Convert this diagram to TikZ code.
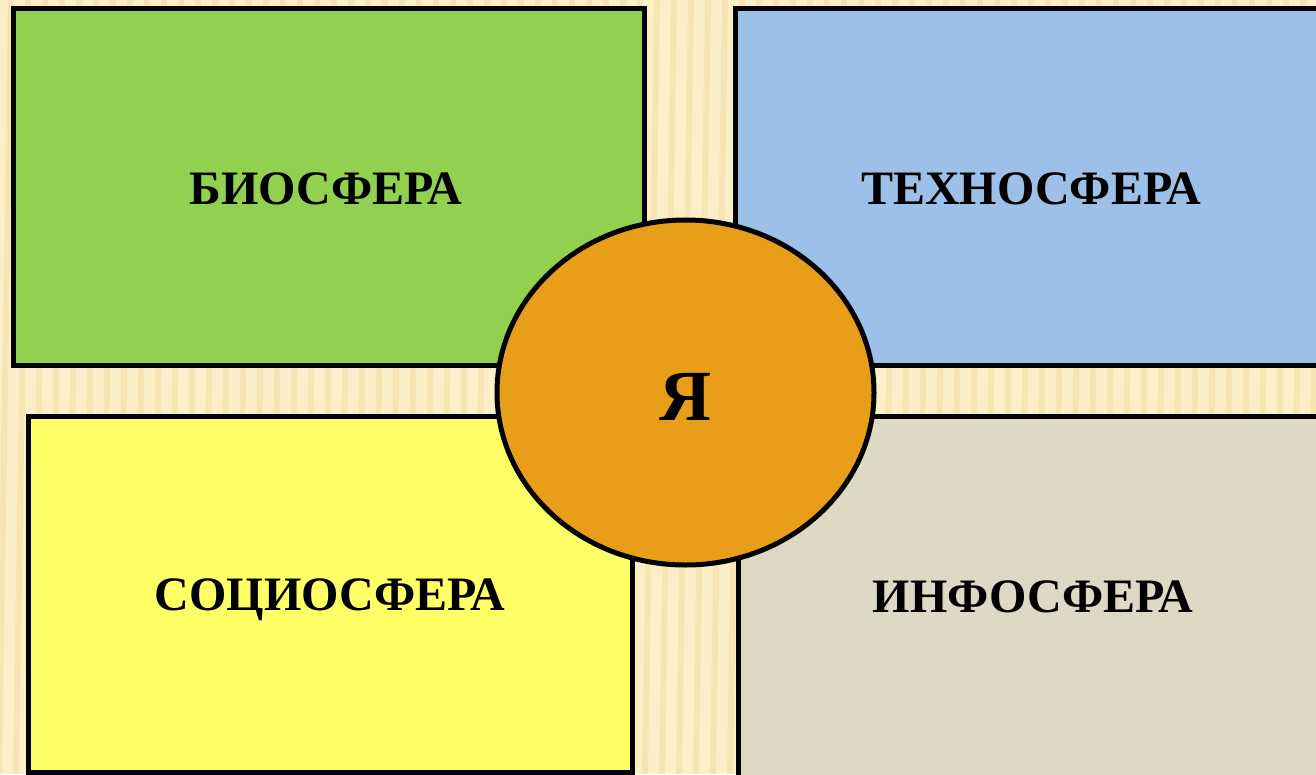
\documentclass[tikz,border=0pt]{standalone}
\usepackage{fontspec}
\setmainfont{Liberation Serif}
\definecolor{woodbg}{HTML}{FCEFC8}
\definecolor{woodline}{HTML}{EFD89A}
\definecolor{biogreen}{HTML}{92D050}
\definecolor{technoblue}{HTML}{9DC0E8}
\definecolor{sociyellow}{HTML}{FFFF66}
\definecolor{infogrey}{HTML}{DDD9C4}
\definecolor{selforange}{HTML}{E89E19}
\tikzset{
	sphere/.style={draw=black, line width=5pt},
	spherelabel/.style={anchor=base, font=\bfseries\fontsize{48}{52}\selectfont},
}

\begin{document}
\begin{tikzpicture}[x=1pt, y=-1pt]
		%%%%% START %%%%%
		
		\useasboundingbox (0, 0) rectangle (1316, 774);
		\fill[woodbg] (0, 0) rectangle (1316, 774);
		\foreach \i in {-40,-23,...,1330}
			\fill[woodline, opacity=0.45] (\i+14, 0) -- (\i+20, 0) -- (\i+8, 774) -- (\i+2, 774) -- cycle;
		
		\draw[sphere, fill=biogreen] (13, 8) rectangle (644, 365);
		\draw[sphere, fill=technoblue] (735, 8) rectangle (1325, 365);
		\draw[sphere, fill=sociyellow] (28, 416) rectangle (632, 772);
		\draw[sphere, fill=infogrey] (738, 416) rectangle (1325, 784);
		
		\node[spherelabel] (bio) at (326, 204) {БИОСФЕРА};
		\node[spherelabel] (techno) at (1031, 204) {ТЕХНОСФЕРА};
		\node[spherelabel] (socio) at (330, 610) {СОЦИОСФЕРА};
		\node[spherelabel] (info) at (1033, 612) {ИНФОСФЕРА};
		
		\draw[sphere, fill=selforange] (685.5, 392.5) ellipse (188.5 and 172.5);
		\node[spherelabel, font=\bfseries\fontsize{72}{76}\selectfont] (self) at (685, 420) {Я};
		
		%%%%% END %%%%%
\end{tikzpicture}
\end{document}
